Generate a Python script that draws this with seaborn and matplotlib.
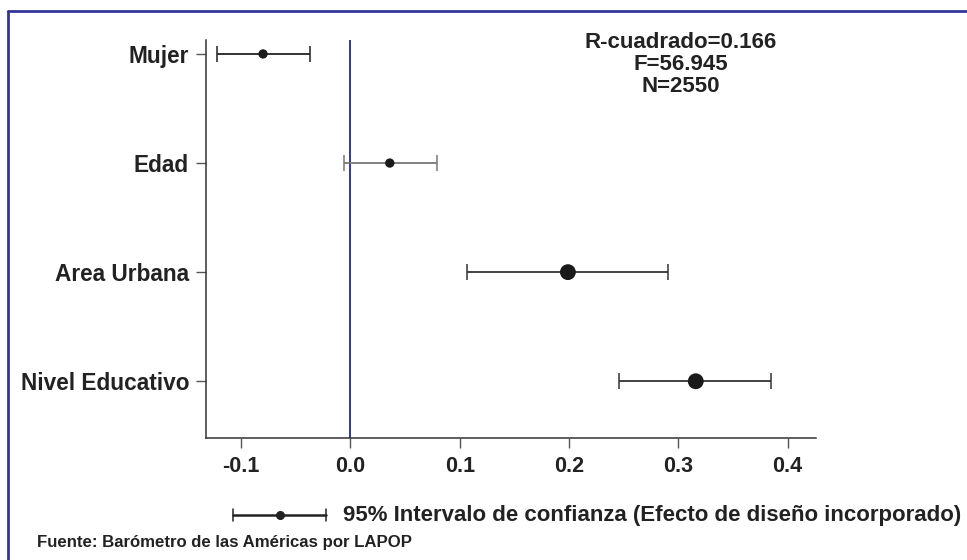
import matplotlib
matplotlib.use("Agg")
import matplotlib.pyplot as plt
import seaborn as sns
import pandas as pd
from matplotlib.lines import Line2D

# Regression coefficients with 95% confidence intervals
variables = ["Mujer", "Edad", "Area Urbana", "Nivel Educativo"]
coef = [-0.080, 0.036, 0.199, 0.316]
ci_low = [-0.122, -0.006, 0.107, 0.246]
ci_high = [-0.037, 0.079, 0.291, 0.385]
significant = [False, False, True, True]
bar_colors = ["#222222", "#777777", "#333333", "#333333"]

xticks = [-0.1, 0.0, 0.1, 0.2, 0.3, 0.4]
stats_text = "R-cuadrado=0.166\nF=56.945\nN=2550"
legend_text = "95% Intervalo de confianza (Efecto de diseño incorporado)"
source_text = "Fuente: Barómetro de las Américas por LAPOP"

sns.set_theme(style="white")
plt.rcParams["font.family"] = ["Liberation Sans", "DejaVu Sans"]
plt.rcParams["font.weight"] = "bold"

df = pd.DataFrame({"variable": variables, "coef": coef, "lo": ci_low,
                   "hi": ci_high, "sig": significant})
df["ypos"] = range(len(df))

fig = plt.figure(figsize=(9.67, 5.6), dpi=100)
ax = fig.add_axes([0.2128, 0.2179, 0.8438 - 0.2128, 0.9286 - 0.2179])

frame_blue = "#33359b"

# confidence interval bars
for i, row in df.iterrows():
    ax.errorbar(row["coef"], row["ypos"],
                xerr=[[row["coef"] - row["lo"]], [row["hi"] - row["coef"]]],
                fmt="none", ecolor=bar_colors[i], elinewidth=1.3,
                capsize=6, capthick=1.1, zorder=2)

# coefficient points, larger when significant
sns.scatterplot(data=df, x="coef", y="ypos", size="sig",
                sizes={False: 45, True: 130}, color="#1a1a1a",
                edgecolor="none", legend=False, ax=ax, zorder=3)

ax.axvline(0, color=frame_blue, lw=1.4, zorder=1)

ax.set_xlim(-0.1324, 0.426)
ax.set_ylim(3.52, -0.128)
ax.set_xticks(xticks)
ax.set_xticklabels([f"{t:.1f}" for t in xticks], fontsize=15.5, fontweight="bold")
ax.set_yticks(df["ypos"])
ax.set_yticklabels(variables, fontsize=16.3, fontweight="bold")
ax.set_xlabel("")
ax.set_ylabel("")
ax.tick_params(axis="both", which="both", direction="out", length=7,
               width=1, color="#555555", labelcolor="#222222", pad=5,
               bottom=True, left=True)
ax.tick_params(axis="x", pad=6)
for side in ["top", "right"]:
    ax.spines[side].set_visible(False)
for side in ["left", "bottom"]:
    ax.spines[side].set_color("#333333")
    ax.spines[side].set_linewidth(1.1)

# model statistics
fig.text(681 / 967, 1 - 32 / 560, stats_text, ha="center", va="top",
         fontsize=16, fontweight="bold", color="#222222", linespacing=1.05)

# legend sample for the confidence interval
y_leg = 1 - 515 / 560
fig.add_artist(Line2D([233 / 967, 326 / 967], [y_leg, y_leg],
                      color="#222222", lw=1.8, transform=fig.transFigure))
for xc in (233, 326):
    fig.add_artist(Line2D([xc / 967, xc / 967], [y_leg - 6 / 560, y_leg + 6 / 560],
                          color="#222222", lw=1.1, transform=fig.transFigure))
fig.add_artist(Line2D([280 / 967], [y_leg], marker="o", markersize=5.5,
                      color="#222222", transform=fig.transFigure))
fig.text(343 / 967, y_leg, legend_text, ha="left", va="center",
         fontsize=16, fontweight="bold", color="#222222")

fig.text(37 / 967, 1 - 543 / 560, source_text, ha="left", va="center",
         fontsize=12.1, fontweight="bold", color="#222222")

# outer frame: top and left edges
fig.add_artist(Line2D([8 / 967, 1.0], [1 - 11 / 560, 1 - 11 / 560],
                      color=frame_blue, lw=2, transform=fig.transFigure))
fig.add_artist(Line2D([8 / 967, 8 / 967], [0, 1 - 11 / 560],
                      color=frame_blue, lw=2, transform=fig.transFigure))

fig.savefig("out.png", dpi=100)
